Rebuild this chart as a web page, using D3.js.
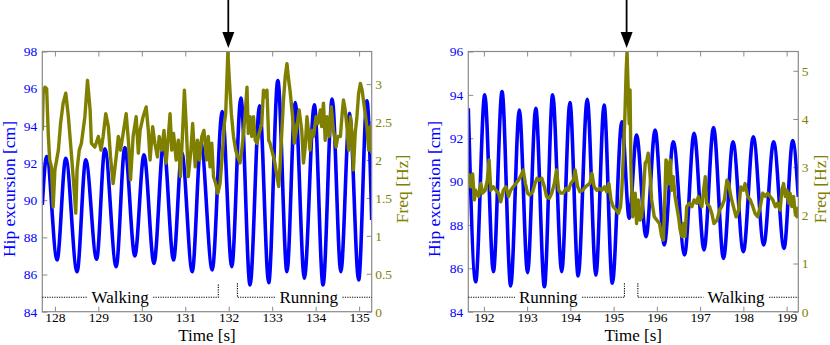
<!DOCTYPE html>
<html>
<head>
<meta charset="utf-8">
<script src="https://cdn.jsdelivr.net/npm/d3@7"></script>
<style>
body { margin: 0; background: #fff; }
svg { display: block; font-family: "Liberation Serif", "Times New Roman", serif; }
</style>
</head>
<body>
<svg id="chart" width="830" height="345"></svg>
<script>
// ---- values ----
var leftTimeTicks = [128, 129, 130, 131, 132, 133, 134, 135];
var leftHipTicks = [84, 86, 88, 90, 92, 94, 96, 98];
var leftFreqTicks = [0, 0.5, 1, 1.5, 2, 2.5, 3];

var rightTimeTicks = [192, 193, 194, 195, 196, 197, 198, 199];
var rightHipTicks = [84, 86, 88, 90, 92, 94, 96];
var rightFreqTicks = [0, 1, 2, 3, 4, 5];

// hip excursion, peaks and troughs [time s, cm]
var leftHip = [[127.71, 89.75], [127.81, 92.35], [128.05, 86.78], [128.25, 92.26], [128.51, 86.15],
  [128.71, 92.17], [128.96, 86.82], [129.15, 92.76], [129.41, 86.42], [129.61, 92.83], [129.84, 87.0],
  [130.05, 92.44], [130.28, 86.6], [130.50, 93.03], [130.73, 86.78], [130.92, 92.56], [131.16, 86.15],
  [131.36, 93.07], [131.62, 86.25], [131.85, 94.77], [132.07, 86.42], [132.28, 95.49], [132.49, 85.44],
  [132.71, 95.08], [132.92, 85.56], [133.13, 96.44], [133.34, 86.15], [133.53, 95.25], [133.74, 85.80],
  [133.97, 95.13], [134.17, 85.44], [134.38, 95.44], [134.58, 86.15], [134.78, 94.68], [134.99, 85.71],
  [135.18, 95.35], [135.29, 88.94]];

var rightHip = [[191.64, 93.38], [191.81, 85.38], [192.02, 94.0], [192.22, 85.85], [192.42, 94.15],
  [192.62, 85.19], [192.82, 93.30], [193.01, 85.80], [193.20, 93.38], [193.40, 85.15], [193.59, 94.0],
  [193.80, 85.85], [193.99, 93.64], [194.18, 85.65], [194.39, 93.80], [194.59, 85.69], [194.78, 93.53],
  [194.97, 85.31], [195.19, 92.76], [195.36, 88.31], [195.53, 92.15], [195.75, 87.46], [195.96, 92.38],
  [196.17, 87.08], [196.38, 91.84], [196.64, 86.62], [196.86, 92.23], [197.09, 86.85], [197.31, 92.49],
  [197.54, 86.46], [197.76, 91.84], [198.0, 86.77], [198.23, 92.07], [198.47, 87.08], [198.70, 91.84],
  [198.94, 86.92], [199.14, 91.89], [199.27, 89.3]];

// step frequency [time s, Hz]
var leftFreq = [[127.71, 2.39], [127.73, 2.88], [127.77, 2.96], [127.81, 2.94], [127.85, 2.31], [127.88, 2.0],
  [127.92, 1.91], [127.96, 1.38], [128.00, 1.87], [128.08, 2.13], [128.13, 2.48], [128.19, 2.75], [128.25, 2.88],
  [128.31, 2.57], [128.36, 2.22], [128.42, 1.78], [128.48, 1.30], [128.51, 1.87], [128.56, 2.13], [128.61, 2.22],
  [128.69, 2.57], [128.75, 3.05], [128.81, 2.66], [128.84, 2.22], [128.92, 2.17], [129.00, 2.31], [129.06, 2.13],
  [129.11, 2.31], [129.17, 2.61], [129.23, 2.44], [129.28, 2.04], [129.34, 1.69], [129.41, 2.04], [129.46, 2.31],
  [129.51, 2.13], [129.57, 2.35], [129.64, 2.61], [129.69, 2.26], [129.74, 1.74], [129.80, 2.31], [129.87, 2.57],
  [129.92, 2.09], [129.96, 2.39], [130.03, 2.57], [130.10, 2.70], [130.15, 2.39], [130.19, 2.0], [130.25, 2.44],
  [130.30, 2.22], [130.36, 2.04], [130.40, 2.31], [130.46, 2.13], [130.51, 2.39], [130.56, 1.96], [130.61, 2.31],
  [130.65, 2.61], [130.69, 2.13], [130.73, 2.35], [130.79, 2.0], [130.84, 2.26], [130.89, 1.78], [130.94, 2.39],
  [130.98, 2.92], [131.02, 2.48], [131.07, 1.78], [131.13, 2.13], [131.17, 2.48], [131.23, 1.91], [131.28, 2.26],
  [131.33, 2.0], [131.38, 2.31], [131.43, 2.39], [131.49, 2.0], [131.53, 2.31], [131.57, 1.91], [131.61, 2.22],
  [131.65, 1.78], [131.70, 1.69], [131.75, 1.56], [131.80, 1.69], [131.86, 2.13], [131.90, 2.48], [131.93, 2.61],
  [131.98, 3.42], [132.01, 3.10], [132.06, 2.61], [132.11, 2.31], [132.16, 2.13], [132.21, 2.04], [132.26, 1.96],
  [132.30, 2.13], [132.34, 2.35], [132.38, 2.61], [132.42, 2.96], [132.45, 2.35], [132.49, 2.57], [132.53, 2.31],
  [132.57, 2.57], [132.61, 2.26], [132.65, 2.22], [132.70, 2.35], [132.76, 2.48], [132.80, 2.92], [132.84, 2.83],
  [132.88, 2.92], [132.92, 2.26], [132.95, 2.22], [132.99, 2.13], [133.05, 2.0], [133.11, 1.78], [133.15, 1.65],
  [133.18, 1.91], [133.22, 2.35], [133.26, 2.79], [133.30, 3.10], [133.34, 3.27], [133.38, 3.05], [133.41, 2.92],
  [133.47, 2.57], [133.51, 2.22], [133.57, 2.44], [133.62, 2.66], [133.68, 2.39], [133.72, 1.96], [133.76, 2.17],
  [133.80, 2.57], [133.84, 2.35], [133.87, 2.13], [133.91, 2.39], [133.95, 2.31], [134.01, 2.57], [134.05, 2.48],
  [134.11, 2.66], [134.14, 2.44], [134.18, 2.75], [134.22, 2.26], [134.26, 2.57], [134.31, 2.31], [134.36, 2.70],
  [134.41, 2.39], [134.47, 2.17], [134.51, 2.31], [134.57, 2.31], [134.61, 2.61], [134.64, 2.79], [134.68, 2.66],
  [134.72, 2.44], [134.76, 2.13], [134.80, 2.57], [134.84, 2.31], [134.87, 1.87], [134.91, 2.35], [134.95, 2.57],
  [134.99, 2.88], [135.03, 3.01], [135.07, 2.92], [135.13, 2.66], [135.18, 2.44], [135.22, 2.13], [135.26, 2.44],
  [135.29, 2.09]];

var rightFreq = [[191.64, 2.80], [191.66, 2.84], [191.70, 2.59], [191.74, 2.86], [191.78, 2.32], [191.81, 2.52],
  [191.88, 2.39], [191.93, 2.66], [191.97, 2.46], [192.03, 2.52], [192.08, 2.73], [192.12, 3.15], [192.16, 2.52],
  [192.22, 2.59], [192.28, 2.52], [192.34, 2.46], [192.39, 2.28], [192.45, 2.52], [192.51, 2.59], [192.57, 2.39],
  [192.62, 2.52], [192.68, 2.59], [192.74, 2.66], [192.80, 2.73], [192.86, 2.83], [192.91, 2.94], [192.96, 2.66],
  [193.01, 2.46], [193.06, 2.42], [193.13, 2.49], [193.18, 2.66], [193.23, 2.77], [193.28, 2.73], [193.34, 2.77],
  [193.40, 2.59], [193.45, 2.39], [193.51, 2.35], [193.57, 2.46], [193.63, 2.66], [193.68, 2.94], [193.73, 2.52],
  [193.78, 2.46], [193.84, 2.46], [193.90, 2.56], [193.96, 2.52], [194.01, 2.66], [194.07, 2.73], [194.11, 2.94],
  [194.17, 2.59], [194.22, 2.49], [194.28, 2.52], [194.35, 2.59], [194.40, 2.63], [194.45, 2.66], [194.50, 2.87],
  [194.55, 2.59], [194.61, 2.52], [194.67, 2.56], [194.73, 2.52], [194.79, 2.59], [194.84, 2.49], [194.89, 2.66],
  [194.94, 2.32], [194.99, 2.18], [195.06, 2.11], [195.11, 2.04], [195.16, 2.18], [195.19, 2.52], [195.23, 3.35],
  [195.26, 4.05], [195.29, 5.0], [195.31, 5.4], [195.34, 4.5], [195.36, 3.9], [195.38, 4.6], [195.40, 3.0],
  [195.44, 1.97], [195.50, 2.46], [195.53, 1.83], [195.57, 2.32], [195.61, 1.90], [195.65, 1.97], [195.69, 2.52],
  [195.73, 3.08], [195.77, 3.15], [195.80, 3.29], [195.84, 2.87], [195.88, 2.32], [195.94, 1.97], [196.00, 1.90],
  [196.06, 1.83], [196.11, 1.56], [196.15, 1.49], [196.19, 2.52], [196.21, 3.15], [196.24, 3.08], [196.27, 2.66],
  [196.31, 3.15], [196.34, 2.52], [196.38, 2.80], [196.42, 2.39], [196.46, 2.18], [196.50, 1.97], [196.54, 1.69],
  [196.58, 1.56], [196.61, 1.83], [196.65, 1.56], [196.69, 2.18], [196.75, 2.25], [196.81, 2.18], [196.86, 2.32],
  [196.92, 2.25], [196.96, 2.39], [197.00, 2.25], [197.04, 2.18], [197.08, 2.52], [197.12, 2.80], [197.15, 2.25],
  [197.22, 2.18], [197.27, 2.04], [197.32, 1.83], [197.39, 1.90], [197.45, 2.11], [197.50, 2.18], [197.56, 2.32],
  [197.62, 2.73], [197.66, 2.66], [197.71, 2.39], [197.77, 2.18], [197.83, 1.97], [197.89, 2.11], [197.94, 2.59],
  [198.00, 2.52], [198.04, 2.66], [198.10, 2.39], [198.16, 2.32], [198.22, 2.18], [198.27, 2.04], [198.33, 1.97],
  [198.39, 2.18], [198.45, 2.46], [198.51, 2.39], [198.56, 2.46], [198.62, 2.39], [198.68, 2.32], [198.74, 2.18],
  [198.79, 2.25], [198.85, 2.11], [198.89, 2.52], [198.93, 2.66], [198.97, 2.39], [199.01, 2.52], [199.05, 2.25],
  [199.08, 2.46], [199.12, 2.18], [199.16, 2.39], [199.20, 2.04], [199.24, 1.97], [199.27, 2.18]];

// gait phase labels: [name, centre time], bracket ends, transition arrow
var leftPhases = [["Walking", 129.50], ["Running", 133.84]];
var leftBracket = [131.76, 132.20];
var leftArrow = 131.99;
var rightPhases = [["Running", 193.49], ["Walking", 197.83]];
var rightBracket = [195.25, 195.56];
var rightArrow = 195.30;

var BLUE = "#0000ff", OLIVE = "#808000", FRAME = "#8a8a8a";
var plotTop = 51.5, plotBottom = 311.7;

var svg = d3.select("#chart");

function drawPanel(id, p) {
    var x = d3.scaleLinear().domain(p.xDomain).range([p.x0, p.x1]);
    var y = d3.scaleLinear().domain(p.hipDomain).range([plotBottom, plotTop]);
    var y2 = d3.scaleLinear().domain(p.freqDomain).range([plotBottom, plotTop]);

    var g = svg.append("g").attr("id", id);

    g.append("clipPath").attr("id", id + "-clip")
        .append("rect")
        .attr("x", p.x0).attr("y", plotTop)
        .attr("width", p.x1 - p.x0).attr("height", plotBottom - plotTop);

    // axes, ticks pointing inward
    function styleAxis(sel, color, size) {
        sel.select(".domain").remove();
        sel.selectAll(".tick line").attr("stroke", FRAME);
        sel.selectAll(".tick text")
            .attr("fill", color)
            .attr("font-size", size);
        sel.attr("font-family", null).attr("font-size", null);
    }

    g.append("g")
        .attr("transform", "translate(0," + plotBottom + ")")
        .call(d3.axisBottom(x).tickValues(p.timeTicks).tickSize(-5).tickPadding(1).tickFormat(d3.format("d")))
        .call(styleAxis, "#000", 13.5);

    g.append("g")
        .attr("transform", "translate(0," + plotTop + ")")
        .call(d3.axisTop(x).tickValues(p.timeTicks).tickSize(-5).tickFormat(""))
        .call(styleAxis, "#000", 13.5);

    g.append("g")
        .attr("transform", "translate(" + p.x0 + ",0)")
        .call(d3.axisLeft(y).tickValues(p.hipTicks).tickSize(-5).tickPadding(5).tickFormat(d3.format("d")))
        .call(styleAxis, BLUE, 13.5);

    g.append("g")
        .attr("transform", "translate(" + p.x1 + ",0)")
        .call(d3.axisRight(y2).tickValues(p.freqTicks).tickSize(-5).tickPadding(3.5).tickFormat(d3.format("")))
        .call(styleAxis, OLIVE, 13.5);

    // lines
    var lines = g.append("g").attr("clip-path", "url(#" + id + "-clip)");

    lines.append("path")
        .datum(p.hip)
        .attr("fill", "none")
        .attr("stroke", BLUE)
        .attr("stroke-width", 3.6)
        .attr("d", d3.line().x(function(d) { return x(d[0]); }).y(function(d) { return y(d[1]); })
            .curve(d3.curveMonotoneX));

    lines.append("path")
        .datum(p.freq)
        .attr("fill", "none")
        .attr("stroke", OLIVE)
        .attr("stroke-width", 3.4)
        .attr("stroke-linejoin", "round")
        .attr("d", d3.line().x(function(d) { return x(d[0]); }).y(function(d) { return y2(d[1]); }));

    // frame
    g.append("rect")
        .attr("x", p.x0).attr("y", plotTop)
        .attr("width", p.x1 - p.x0).attr("height", plotBottom - plotTop)
        .attr("fill", "none")
        .attr("stroke", FRAME)
        .attr("stroke-width", 1.2);

    // phase annotations: dotted line broken around each word
    var lineY = plotBottom - 14.4, stepY = plotBottom - 28.5;
    var ann = g.append("g");
    var dotted = function(sel) {
        sel.attr("fill", "none").attr("stroke", "#000")
            .attr("stroke-width", 1.1).attr("stroke-dasharray", "1.2,1.2");
    };
    var labels = p.phases.map(function(ph) {
        var t = ann.append("text")
            .attr("x", x(ph[1])).attr("y", lineY + 5.6)
            .attr("text-anchor", "middle")
            .attr("font-size", 17)
            .attr("fill", "#000")
            .text(ph[0]);
        return t.node().getBBox();
    });
    var gap = 4;
    var bx0 = x(p.bracket[0]), bx1 = x(p.bracket[1]);
    ann.append("path").call(dotted)
        .attr("d", "M" + p.x0 + "," + lineY + "H" + (labels[0].x - gap) +
            "M" + (labels[0].x + labels[0].width + gap) + "," + lineY + "H" + bx0 + "V" + stepY);
    ann.append("path").call(dotted)
        .attr("d", "M" + bx1 + "," + stepY + "V" + lineY + "H" + (labels[1].x - gap) +
            "M" + (labels[1].x + labels[1].width + gap) + "," + lineY + "H" + p.x1);

    // transition arrow
    var ax = x(p.arrow);
    g.append("line")
        .attr("x1", ax).attr("x2", ax).attr("y1", 0).attr("y2", 34)
        .attr("stroke", "#000").attr("stroke-width", 1.8);
    g.append("path")
        .attr("d", "M" + (ax - 6) + ",32L" + (ax + 6) + ",32L" + ax + ",48Z")
        .attr("fill", "#000");

    // axis titles
    g.append("text")
        .attr("transform", "translate(" + p.leftTitleX + ",189) rotate(-90)")
        .attr("text-anchor", "middle")
        .attr("font-size", 17.5)
        .attr("fill", BLUE)
        .text("Hip excursion [cm]");

    g.append("text")
        .attr("transform", "translate(" + p.rightTitleX + ",189) rotate(-90)")
        .attr("text-anchor", "middle")
        .attr("font-size", 17.5)
        .attr("fill", OLIVE)
        .text("Freq [Hz]");

    g.append("text")
        .attr("x", (p.x0 + p.x1) / 2).attr("y", 341)
        .attr("text-anchor", "middle")
        .attr("font-size", 17)
        .attr("fill", "#000")
        .text("Time [s]");
}

drawPanel("left", {
    x0: 42.3, x1: 371.7,
    xDomain: [127.71, 135.29], hipDomain: [84, 98], freqDomain: [0, 3.43],
    timeTicks: leftTimeTicks, hipTicks: leftHipTicks, freqTicks: leftFreqTicks,
    hip: leftHip, freq: leftFreq,
    phases: leftPhases, bracket: leftBracket, arrow: leftArrow,
    leftTitleX: 14.8, rightTitleX: 408
});

drawPanel("right", {
    x0: 468.3, x1: 798.3,
    xDomain: [191.64, 199.27], hipDomain: [84, 96], freqDomain: [0, 5.4],
    timeTicks: rightTimeTicks, hipTicks: rightHipTicks, freqTicks: rightFreqTicks,
    hip: rightHip, freq: rightFreq,
    phases: rightPhases, bracket: rightBracket, arrow: rightArrow,
    leftTitleX: 440, rightTitleX: 826
});
</script>
</body>
</html>
